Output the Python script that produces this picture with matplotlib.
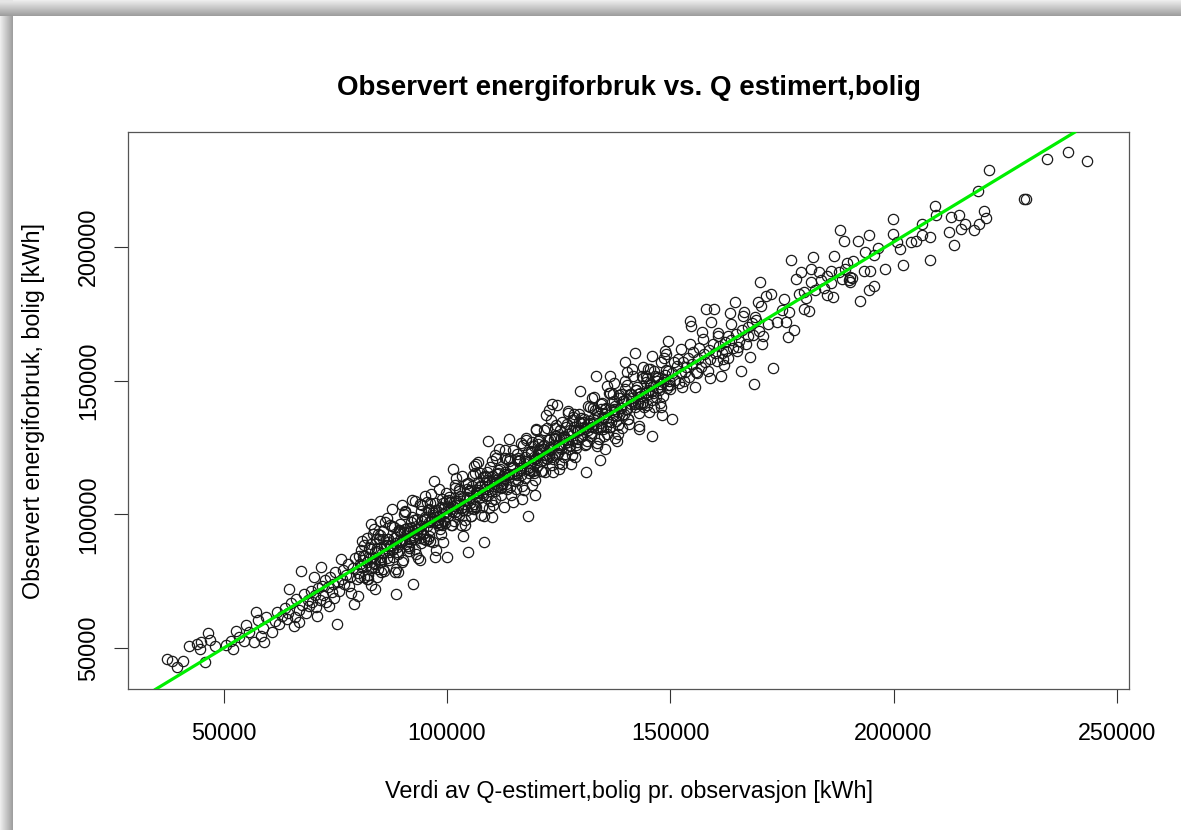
import matplotlib
matplotlib.use("Agg")
import matplotlib.pyplot as plt
import numpy as np

# Q-estimert (x) vs observert forbruk (y), kWh in x-bands
q_a = [37300, 38400, 39500, 40900, 42200, 45000, 44700, 45800, 46400, 48000,
       51700, 52000, 52800, 55100, 56900, 57300, 58400, 59100, 59500, 44000,
       46900, 50500, 53500, 55800, 57800, 58900, 54600]
obs_a = [45900, 45300, 42900, 45100, 50700, 52200, 49600, 44800, 55600, 50700,
         52700, 49600, 56500, 58600, 52200, 63500, 54600, 52200, 61600, 51500,
         53000, 51000, 54000, 56200, 60500, 57500, 52500]

q_b = [60900, 63100, 64200, 64700, 65800, 66900, 67300, 69100, 70200, 70900,
       71700, 72000, 73600, 74200, 75300, 76200, 76400, 78000, 79100, 61500,
       62000, 62400, 63800, 64500, 65200, 65900, 66300, 66800, 67600, 68100,
       68400, 68900, 69500, 69800, 70500, 70600, 71200, 71500, 72300, 72700,
       72900, 73300, 73900, 74400, 74800, 75000, 75700, 75900, 76800, 77000,
       77400, 77900, 78300, 78600, 79000, 79400, 79800, 80000]
obs_b = [56000, 62000, 60800, 72100, 58200, 59700, 78900, 65700, 76600, 62000,
         80300, 73200, 65700, 70900, 59000, 83300, 75800, 73200, 66500, 60200,
         63500, 58900, 64900, 63000, 66800, 61500, 68400, 64200, 66000, 70300,
         63200, 68000, 71400, 67300, 69900, 65200, 72500, 68100, 70000, 75600,
         67400, 72800, 76700, 73900, 68600, 78600, 74700, 71200, 79200, 73800,
         77400, 81300, 76600, 70500, 79800, 83500, 75900, 78200]

q_c = [80200, 80900, 82400, 83100, 84200, 83900, 85300, 86200, 87600, 88400,
       88700, 89500, 90600, 91300, 92400, 92800, 94200, 95800, 96400, 97300,
       99100, 100000, 97000, 85000, 90000, 95000, 83000, 89000, 94000, 80300,
       80600, 81100, 81400, 81800, 82000, 82500, 82700, 83200, 83500, 83800,
       84300, 84600, 84900, 85100, 85600, 85900, 86400, 86700, 87000, 87300,
       87900, 88100, 88600, 88900, 89200, 89700, 90000, 90300, 90800, 91000,
       91500, 91700, 92100, 92600, 92900, 93300, 93600, 94000, 94400, 94700,
       95100, 95300, 95700, 96100, 96300, 96800, 97100, 97500, 97800, 98200,
       98400, 98900, 99300, 99600, 99900, 80800, 81600, 82300, 83000, 83900,
       84500, 85300, 86000, 86900, 87600, 88400, 89000, 89500, 90500, 91200,
       92000, 92400, 93100, 93900, 94600, 95000, 95900, 96600, 97300, 98000,
       98700, 99100, 99700, 85000, 87200, 89900, 91900, 94200, 96000, 98500,
       80500, 81300, 82100, 82900, 83600, 84400, 85200, 85800, 86600, 87400,
       88200, 88800, 89600, 90400, 91100, 91800, 92700, 93400, 94300, 95200,
       96000, 96900, 97700, 98600, 99400]
obs_c = [69400, 90000, 75800, 96400, 90800, 72100, 82200, 97100, 102000, 78400,
         70200, 93400, 101300, 88100, 73900, 105100, 95600, 90800, 107600, 84000,
         89600, 84000, 112600, 97500, 103500, 107000, 73500, 78500, 83000, 84300,
         76600, 83100, 88400, 80800, 76000, 87500, 83700, 80200, 92500, 83800,
         87300, 79600, 90900, 83100, 93600, 78900, 88400, 90700, 86000, 88300,
         83900, 95100, 91600, 85900, 94200, 89700, 82000, 100300, 88800, 95000,
         87500, 93700, 99100, 91600, 86900, 98300, 94600, 91000, 103400, 94700,
         98100, 90300, 101700, 94100, 104300, 89800, 99100, 101500, 96800, 99200,
         94400, 105900, 102300, 96600, 104900, 80800, 84600, 77300, 89000, 81900,
         92500, 78300, 88000, 90900, 86600, 89400, 85000, 96500, 93500, 88200,
         97000, 92400, 85100, 103900, 92600, 99000, 91900, 98600, 104300, 97000,
         92700, 104100, 100700, 82000, 96200, 89900, 94900, 89200, 102000, 96500,
         81500, 84300, 82100, 86900, 81600, 86400, 84200, 90800, 83600, 88400,
         91200, 87800, 93600, 90400, 93100, 89800, 97700, 94400, 93300, 98200,
         97000, 99900, 97700, 102600, 97400]
q_c2 = [80700, 81500, 82200, 83000, 83700, 84400, 85100, 85700, 86500, 87100,
        87800, 88500, 89300, 90100, 90700, 91400, 92200, 92800, 93500, 94100,
        94900, 95500, 96200, 96900, 97600, 98300, 99000, 99800, 84000, 85500,
        86800, 88000, 89400, 90700, 91600, 92300, 93200, 94500, 95600, 96500,
        97400, 98100, 99200]
obs_c2 = [86700, 76500, 91200, 80000, 94700, 76400, 92100, 79700, 98500, 83100,
          95800, 79500, 94300, 83100, 100700, 86400, 105200, 90800, 83500, 101100,
          90900, 104500, 90200, 100900, 86600, 109300, 96000, 107800, 86000, 85500,
          89800, 87000, 90400, 94700, 90600, 94300, 93200, 97500, 95600, 97500,
          101400, 96100, 100200]

q_d = [101400, 104700, 106600, 108400, 109200, 114000, 118100, 119800, 122200, 122900,
       123600, 124700, 129900, 119900, 110700, 125100, 114700, 102000, 107000, 113000,
       120000, 103500, 110000, 116500, 127000, 100200, 100500, 101000, 101300, 101700,
       102000, 102400, 102800, 103100, 103500, 103900, 104200, 104600, 104900, 105300,
       105800, 106100, 106400, 106900, 107200, 107600, 108000, 108300, 108700, 109000,
       109500, 109800, 110200, 110600, 111000, 111300, 111800, 112100, 112500, 112900,
       113200, 113700, 114000, 114400, 114800, 115100, 115600, 115900, 116300, 116700,
       117000, 117500, 117800, 118200, 118600, 119000, 119400, 119700, 120100, 120500,
       120900, 121200, 121600, 122000, 122400, 122800, 123100, 123500, 123900, 124300,
       124600, 125000, 125400, 125800, 126100, 126500, 126900, 127300, 127600, 128000,
       128400, 128800, 129200, 129600, 129900, 100700, 101500, 102200, 102600, 103300,
       104000, 104400, 105000, 105500, 106300, 106700, 107400, 107900, 108500, 109200,
       109600, 110400, 110900, 111500, 112300, 112700, 113400, 114200, 114600, 115300,
       116000, 116500, 117200, 117700, 118400, 118900, 119600, 120300, 120700, 121400,
       121900, 122600, 123300, 123700, 124500, 125200, 125600, 126300, 126700, 127500,
       128200, 128600, 129400, 130000, 101900, 100900, 101600, 102500, 103000, 103700,
       104500, 105100, 105600, 106200, 106800, 107500, 108100, 108900, 109300, 110000,
       110700, 111400, 111900, 112600, 113000, 113900, 114500, 115400, 115800, 116600,
       117300, 118000, 118800, 119200, 119900, 120600, 121000, 121800, 122200, 123000,
       123600, 124100, 124800, 125500, 126000, 126600, 127100, 127900, 128500, 129100,
       129700]
obs_d = [116900, 85800, 118800, 89500, 127500, 128200, 99500, 107200, 137200, 139000,
         141200, 141000, 146000, 131900, 122200, 117000, 104500, 113500, 119500, 124000,
         131500, 92000, 99000, 126500, 138500, 99200, 105500, 96000, 103300, 109700,
         100000, 103400, 108800, 96100, 106500, 103900, 111200, 101600, 108900, 99300,
         114800, 102100, 108400, 111900, 106200, 99600, 114000, 109300, 106700, 116000,
         112500, 104800, 114200, 110600, 121000, 110300, 116800, 107100, 114500, 120900,
         111200, 114700, 120000, 107400, 117800, 115100, 122600, 112900, 120300, 110700,
         126000, 113500, 119800, 123200, 117600, 111000, 125400, 120700, 118100, 127500,
         123900, 116200, 125600, 122000, 132400, 121800, 128100, 118500, 125900, 132300,
         122600, 126000, 131400, 118800, 129100, 126500, 133900, 124300, 131600, 122000,
         137400, 124800, 131200, 134600, 128900, 104700, 97500, 104200, 109600, 102300,
         98000, 109400, 106000, 102500, 115300, 106700, 110400, 102900, 114500, 107200,
         117600, 103400, 112900, 115500, 111300, 113700, 109400, 121200, 117600, 112300,
         121000, 116500, 109200, 127700, 116400, 122900, 115600, 122300, 127700, 120400,
         115900, 127600, 124300, 120700, 133500, 125200, 128600, 121300, 132700, 125500,
         136200, 121600, 131400, 134000, 100900, 101900, 104600, 102500, 107000, 101700,
         106500, 104100, 110600, 103200, 107800, 110500, 107100, 112900, 109300, 112000,
         108700, 116400, 112900, 111600, 116000, 114900, 117500, 115400, 119800, 114600,
         119300, 117000, 123800, 116200, 120900, 123600, 120000, 125800, 122200, 125000,
         121600, 129100, 125800, 124500, 129000, 127600, 130100, 127900, 132500, 127100,
         131700]
q_d2 = [100400, 101100, 101800, 102700, 103400, 104100, 104800, 105400, 106000, 106600,
        107300, 108200, 108800, 109400, 110100, 110800, 111600, 112200, 112800, 113500,
        114100, 114900, 115500, 116200, 116900, 117600, 118300, 119100, 119800, 120400,
        121100, 121700, 122500, 123200, 123800, 124400, 125100, 125700, 126400, 127000,
        127700, 128300, 129000, 129500, 100300, 101200, 102100, 103200, 104300, 105200,
        106000, 107000, 107800, 108600, 109700, 110500, 111200, 112000, 113100, 113800,
        114700, 115700, 116400, 117400, 118500, 119500, 120200, 121300, 122100, 122900,
        124000, 124900, 126200, 127200, 128100, 129300]
obs_d2 = [106400, 96100, 110800, 99700, 114400, 96100, 111800, 99400, 118000, 102600,
          115300, 99200, 113800, 102400, 120100, 105800, 124600, 110200, 102800, 120500,
          110100, 123900, 109500, 120200, 105900, 128600, 115300, 127100, 112800, 126400,
          116100, 131700, 120500, 135200, 115800, 129400, 119100, 134700, 122400, 138000,
          118700, 135300, 126000, 137500, 102300, 101200, 105100, 102200, 105300, 109200,
          104000, 109000, 107800, 111600, 108700, 111500, 115200, 110000, 115100, 113800,
          117700, 114700, 117400, 121400, 116500, 121500, 120200, 124300, 121100, 123900,
          128000, 122900, 128200, 127200, 131100, 128300]

q_e = [131200, 134200, 133400, 136600, 139900, 140300, 142000, 145900, 145100, 146000,
       148800, 149600, 135500, 138000, 143000, 132500, 137500, 144000, 130300, 130700,
       131200, 131600, 132000, 132300, 132800, 133100, 133500, 133900, 134300, 134700,
       135000, 135400, 135900, 136200, 136600, 137000, 137400, 137800, 138200, 138600,
       138900, 139300, 139800, 140100, 140500, 140900, 141300, 141700, 142100, 142500,
       142900, 143200, 143700, 144000, 144400, 144800, 145200, 145600, 146000, 146400,
       146800, 147100, 147600, 147900, 148300, 148700, 149100, 149500, 130500, 131400,
       132100, 132600, 133300, 134000, 134500, 135200, 135700, 136400, 137200, 137600,
       138400, 139000, 139600, 140300, 140700, 141500, 142300, 142700, 143400, 144200,
       144600, 145400, 145900, 146600, 147300, 148000, 148500, 149300, 130900, 131800,
       132500, 133700, 134600, 135500, 136000, 136900, 137900, 138700, 139500, 140400,
       141100, 142000, 142800, 143600, 144500, 145300, 146200, 147000, 147800, 148900,
       149800]
obs_e = [116000, 120400, 151800, 151800, 156800, 153100, 160400, 159300, 154300, 129400,
         161200, 164900, 124500, 127500, 132000, 143500, 149000, 155000, 129300, 135700,
         126200, 133600, 140000, 130300, 133800, 139100, 126500, 136900, 134300, 141700,
         132000, 139400, 129900, 145200, 132600, 139000, 142400, 136800, 130200, 144600,
         139900, 137300, 146800, 143100, 135500, 144900, 141300, 151700, 141100, 147500,
         137900, 145200, 151700, 142000, 145400, 150800, 138200, 148600, 146000, 153400,
         143800, 151100, 141600, 156900, 144300, 150700, 154100, 148500, 134500, 127400,
         134100, 139600, 132300, 128000, 139500, 136200, 132700, 145400, 137200, 140600,
         133400, 145000, 137600, 148300, 133700, 143500, 146300, 141700, 144400, 140200,
         151600, 148400, 142900, 151600, 147300, 140000, 158500, 147300, 131900, 134800,
         132500, 137700, 132600, 137500, 135000, 141900, 134900, 139700, 142500, 139400,
         145100, 142000, 144800, 141600, 149500, 146300, 145200, 150000, 148800, 151900,
         149800]
q_e2 = [130100, 130800, 131500, 132200, 132900, 133600, 134400, 135100, 135800, 136500,
        137100, 137700, 138500, 139200, 139900, 140600, 141400, 142200, 143000, 143800,
        144700, 145500, 146300, 147200, 148100, 149000, 149900, 130600, 131500, 132700,
        133800, 134900, 135600, 136700, 137500, 138300, 139400, 140200, 141200, 142400,
        143300, 144300, 145000, 146100, 147400, 148400, 149400]
obs_e2 = [136100, 125800, 140500, 129200, 143900, 125600, 141400, 129100, 147800, 132500,
          145100, 128700, 143500, 132200, 149900, 135600, 154400, 140200, 133000, 150800,
          140700, 154500, 140300, 151200, 137100, 160000, 146900, 132600, 131500, 135700,
          132800, 135900, 139600, 134700, 139500, 138300, 142400, 139200, 142200, 146400,
          141300, 145300, 145000, 148100, 146400, 149400, 153400]

q_f = [150300, 151800, 152500, 153300, 154400, 154700, 155500, 157300, 158100, 158400,
       159200, 159900, 160700, 161400, 161800, 162900, 163600, 164400, 165100, 165800,
       166600, 167300, 168800, 169600, 171800, 172900, 150000, 150500, 151000, 151500,
       152000, 152300, 152800, 153000, 153600, 154000, 154200, 154900, 155200, 155800,
       156200, 156500, 156900, 157500, 157800, 158600, 159000, 159500, 160000, 160400,
       161000, 161500, 162200, 162500, 163000, 163500, 164000, 164700, 165500, 166000,
       166900, 167500, 168200, 168500, 169200, 169800, 150800, 152600, 154500, 156000,
       157100, 158900, 160600, 162000, 163300, 164900, 166300, 167800, 168900, 170500,
       171500]
obs_f = [135600, 158100, 161800, 153100, 172400, 170500, 147500, 165600, 176800, 153700,
         171800, 176800, 166800, 151800, 158100, 166800, 171200, 179300, 162400, 153700,
         175500, 169900, 148700, 179300, 171200, 154600, 148500, 153000, 150200, 155500,
         149000, 152800, 157000, 150000, 155000, 158500, 151500, 156200, 160500, 153300,
         158000, 162300, 155000, 160000, 157000, 161500, 158000, 163800, 160200, 157500,
         163000, 160200, 164500, 161000, 158500, 165000, 162000, 167500, 164800, 168800,
         163500, 166500, 171500, 167000, 172800, 168500, 156800, 147600, 163500, 153000,
         168100, 150900, 167600, 156000, 175300, 160900, 174300, 158800, 173900, 163500,
         181500]

q_g = [170300, 170700, 170100, 172500, 174000, 175500, 176400, 176600, 177000, 177700,
       178200, 179200, 179900, 179900, 181000, 181400, 181400, 182000, 183300, 184400,
       185100, 185900, 186500, 186600, 187700, 187900, 189000, 189200, 190300, 190300,
       190900, 192100, 192500, 193300, 193600, 194400, 194600, 194700, 195500, 195600,
       198100, 199800, 199800, 175000, 176000, 178800, 180300, 182500, 183800, 185000,
       186000, 188500, 189500, 190000, 190600, 196500]
obs_g = [178000, 166800, 186800, 182400, 171800, 180500, 166200, 175500, 195100, 169000,
         188000, 190500, 183000, 176800, 176100, 191700, 186800, 196100, 190500, 184500,
         181800, 191100, 181100, 196700, 190500, 206100, 202000, 191700, 188600, 186800,
         194800, 202300, 179700, 191100, 198000, 204500, 183700, 191100, 185500, 197000,
         191700, 210400, 204800, 176500, 172000, 182500, 181000, 184000, 187500, 189000,
         186500, 188000, 194000, 187500, 188200, 199500]

q_h = [200700, 201400, 202200, 204000, 205100, 206400, 206400, 208100, 208100, 209300,
       209400, 212400, 212900, 213500, 214700, 215100, 216000, 218100, 219200, 220700,
       220200, 218800, 221300, 229200, 229700, 234400, 239000, 243300]
obs_h = [201700, 199200, 193200, 201700, 202300, 204500, 208600, 203500, 195100, 215400,
         211900, 205700, 211100, 200700, 211900, 206700, 208600, 206300, 208600, 210700,
         213200, 220800, 228800, 217700, 217700, 232900, 235600, 232000]

# fitted reference line (abline)
FIT_INTERCEPT = -600
FIT_SLOPE = 1.012

X_TICKS = [50000, 100000, 150000, 200000, 250000]
Y_TICKS = [50000, 100000, 150000, 200000]

q_est = np.concatenate([q_a, q_b, q_c, q_c2, q_d, q_d2, q_e, q_e2, q_f, q_g, q_h])
observed = np.concatenate([obs_a, obs_b, obs_c, obs_c2, obs_d, obs_d2, obs_e, obs_e2,
                           obs_f, obs_g, obs_h])

plt.rcParams["font.family"] = ["Liberation Sans", "DejaVu Sans"]

W, H = 1181, 830
fig = plt.figure(figsize=(W / 100, H / 100), dpi=100)

# drop-shadow frame of the screenshot (top and left edges)
bg = np.ones((H, W))
top_h, left_w = 16, 13
for r in range(top_h):
    bg[r, :] = 0.93 - 0.33 * r / top_h
for c in range(left_w):
    bg[top_h:, c] = np.minimum(bg[top_h:, c], 0.93 - 0.33 * c / left_w)
bg[:top_h, :left_w] = np.minimum(bg[:top_h, :left_w], 0.9)
fig.figimage(np.dstack([bg, bg, bg]), xo=0, yo=0, origin="upper", zorder=-5)

ax = fig.add_axes([128 / W, (H - 689.3) / H, 1001 / W, 557 / H])
ax.set_facecolor("none")

ax.plot(q_est, observed, "o", ms=7.4, mfc="none", mec="#1a1a1a", mew=0.9, zorder=2)
ax.axline((0, FIT_INTERCEPT), slope=FIT_SLOPE, color="#00ee00", lw=2.3, zorder=3)

ax.set_xlim(28600, 252700)
ax.set_ylim(34600, 242800)
ax.set_xticks(X_TICKS)
ax.set_xticklabels([str(t) for t in X_TICKS])
ax.set_yticks(Y_TICKS)
ax.set_yticklabels([str(t) for t in Y_TICKS], rotation=90, va="center")
ax.tick_params(axis="both", direction="out", length=10, width=0.8,
               color="#333333", labelsize=16.8, labelcolor="black")
ax.tick_params(axis="x", pad=13.5)
ax.tick_params(axis="y", pad=10)
for s in ax.spines.values():
    s.set_color("#555555")
    s.set_linewidth(0.9)

fig.text(629 / W, 1 - 88 / H, "Observert energiforbruk vs. Q estimert,bolig",
         ha="center", va="center", fontsize=20, fontweight="bold")
fig.text(629 / W, 1 - 791 / H, "Verdi av Q-estimert,bolig pr. observasjon [kWh]",
         ha="center", va="center", fontsize=16.8)
fig.text(33.5 / W, 1 - 410.7 / H, "Observert energiforbruk, bolig [kWh]",
         ha="center", va="center", rotation=90, fontsize=16.8)

fig.savefig("out.png", dpi=100)
